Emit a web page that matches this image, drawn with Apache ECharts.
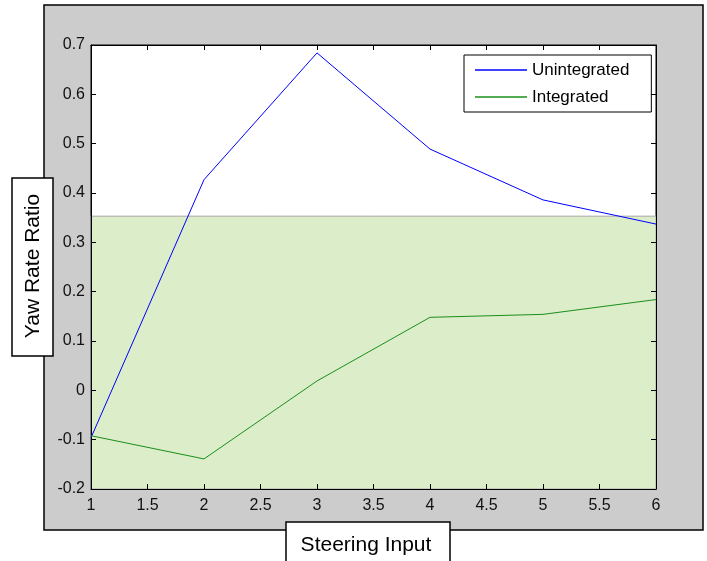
<!DOCTYPE html>
<html>
<head>
<meta charset="utf-8">
<script src="https://cdn.jsdelivr.net/npm/echarts@6/dist/echarts.min.js"></script>
<style>
  html, body { margin: 0; padding: 0; background: #ffffff; }
  #chart { width: 707px; height: 561px; }
</style>
</head>
<body>
<div id="chart"></div>
<script>
// values
var steeringInput = [1, 2, 3, 4, 5, 6];
var unintegrated = [-0.096, 0.427, 0.684, 0.489, 0.386, 0.337];
var integrated = [-0.092, -0.139, 0.019, 0.148, 0.154, 0.184];
var shadeTop = 0.353;

function pairs(xs, ys) {
  return xs.map(function (x, i) { return [x, ys[i]]; });
}

var font = 'Liberation Sans, Arial, sans-serif';
var chart = echarts.init(document.getElementById('chart'), null, { renderer: 'canvas' });

var tickAxis = {
  type: 'value',
  z: 4,
  axisLine: { show: true, onZero: false, lineStyle: { color: '#000000', width: 1 } },
  axisTick: { show: true, inside: true, length: 5, lineStyle: { color: '#000000' } },
  splitLine: { show: false }
};

chart.setOption({
  animation: false,
  backgroundColor: '#ffffff',
  graphic: [
    { type: 'rect', z: -10, shape: { x: 44, y: 5, width: 659, height: 525 },
      style: { fill: '#cccccc', stroke: '#000000', lineWidth: 1.5 } },
    { type: 'rect', z: 10, shape: { x: 12, y: 178, width: 41, height: 178 },
      style: { fill: '#ffffff', stroke: '#000000', lineWidth: 1.5 } },
    { type: 'text', z: 11, x: 33, y: 266, rotation: Math.PI / 2,
      style: { text: 'Yaw Rate Ratio', font: '21px ' + font, fill: '#000000',
               align: 'center', verticalAlign: 'middle' } },
    { type: 'rect', z: 10, shape: { x: 286, y: 522, width: 164, height: 48 },
      style: { fill: '#ffffff', stroke: '#000000', lineWidth: 1.5 } },
    { type: 'text', z: 11, x: 366, y: 545,
      style: { text: 'Steering Input', font: '21px ' + font, fill: '#000000',
               align: 'center', verticalAlign: 'middle' } }
  ],
  grid: {
    left: 91, top: 45, right: 51, bottom: 72,
    show: true, backgroundColor: '#ffffff', borderColor: '#000000', borderWidth: 1
  },
  legend: {
    left: 464, top: 55, orient: 'vertical',
    backgroundColor: '#ffffff', borderColor: '#000000', borderWidth: 1,
    padding: [5, 22, 5, 11], itemGap: 7,
    itemWidth: 52, itemHeight: 1.5, icon: 'rect',
    textStyle: { fontFamily: font, fontSize: 17, color: '#000000', lineHeight: 20 },
    data: ['Unintegrated', 'Integrated']
  },
  xAxis: [
    Object.assign({}, tickAxis, {
      min: 1, max: 6, interval: 0.5, position: 'bottom',
      axisLabel: { show: true, fontFamily: font, fontSize: 16, color: '#111111', margin: 9 }
    }),
    Object.assign({}, tickAxis, {
      min: 1, max: 6, interval: 0.5, position: 'top',
      axisLabel: { show: false }
    })
  ],
  yAxis: [
    Object.assign({}, tickAxis, {
      min: -0.2, max: 0.7, interval: 0.1, position: 'left',
      axisLabel: { show: true, fontFamily: font, fontSize: 16, color: '#111111', margin: 6,
        formatter: function (v) { return String(Math.round(v * 10) / 10); } }
    }),
    Object.assign({}, tickAxis, {
      min: -0.2, max: 0.7, interval: 0.1, position: 'right',
      axisLabel: { show: false }
    })
  ],
  series: [
    {
      name: 'shade', type: 'line', symbol: 'none', z: 1, data: [],
      markArea: {
        silent: true,
        itemStyle: { color: '#dcedca', borderColor: '#a8a8a8', borderWidth: 1 },
        data: [[{ yAxis: -0.2, xAxis: 1 }, { yAxis: shadeTop, xAxis: 6 }]]
      }
    },
    {
      name: 'Unintegrated', type: 'line', symbol: 'none', z: 5,
      color: '#0000ff', lineStyle: { width: 1, color: '#0000ff' },
      data: pairs(steeringInput, unintegrated)
    },
    {
      name: 'Integrated', type: 'line', symbol: 'none', z: 5,
      color: '#1a8f1a', lineStyle: { width: 1, color: '#1a8f1a' },
      data: pairs(steeringInput, integrated)
    }
  ]
});
</script>
</body>
</html>
